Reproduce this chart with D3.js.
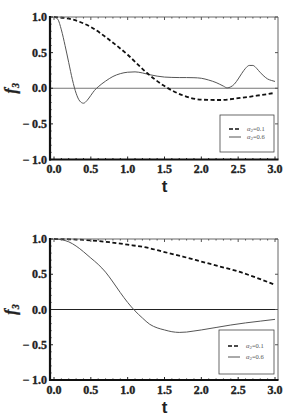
<!DOCTYPE html>
<html>
<head>
<meta charset="utf-8">
<script src="https://cdn.jsdelivr.net/npm/d3@7"></script>
<style>
  html, body { margin: 0; padding: 0; background: #fff; }
  svg { display: block; }
  .tick-label { font-family: "Liberation Serif", "DejaVu Serif", serif; font-weight: bold; font-size: 12px; fill: #222; stroke: #222; stroke-width: 0.35px; }
  .x-title { font-family: "Liberation Sans", Arial, sans-serif; font-weight: bold; font-size: 17px; fill: #222; }
  .y-title { font-family: "Liberation Serif", serif; font-weight: bold; font-style: italic; font-size: 16px; fill: #222; stroke: #222; stroke-width: 0.3px; }
  .legend-text { font-family: "Liberation Serif", serif; font-size: 6.5px; fill: #555; }
</style>
</head>
<body>
<div id="chart"></div>
<script>
// ---- data ----
const xTicks = [0, 0.5, 1, 1.5, 2, 2.5, 3];
const yTicks = [-1, -0.5, 0, 0.5, 1];
const legendLabels = ['0.1', '0.6'];

// upper panel
const tTopDash = [0, 0.25, 0.5, 0.75, 1.0, 1.25, 1.5, 1.75, 2.0, 2.25, 2.5, 2.75, 3.0];
const fTopDash = [1.0, 0.965, 0.86, 0.68, 0.47, 0.225, 0.03, -0.1, -0.16, -0.165, -0.14, -0.105, -0.065];
const tTopSolid = [0, 0.05, 0.1, 0.15, 0.2, 0.25, 0.3, 0.35, 0.4, 0.45, 0.5, 0.55, 0.6, 0.7, 0.8, 0.9, 1.0, 1.1, 1.2, 1.3, 1.4, 1.5, 1.6, 1.7, 1.8, 1.9, 2.0, 2.1, 2.2, 2.3, 2.35, 2.4, 2.45, 2.5, 2.55, 2.6, 2.65, 2.7, 2.75, 2.8, 2.85, 2.9, 2.95, 3.0];
const fTopSolid = [1.0, 0.97, 0.82, 0.6, 0.36, 0.12, -0.07, -0.18, -0.21, -0.17, -0.1, -0.03, 0.02, 0.1, 0.165, 0.205, 0.225, 0.23, 0.215, 0.19, 0.17, 0.157, 0.152, 0.15, 0.15, 0.148, 0.14, 0.115, 0.08, 0.03, 0.005, 0.02, 0.06, 0.13, 0.21, 0.28, 0.32, 0.32, 0.28, 0.22, 0.17, 0.13, 0.11, 0.095];

// lower panel
const tBotDash = [0, 0.25, 0.5, 0.75, 1.0, 1.25, 1.5, 1.75, 2.0, 2.25, 2.5, 2.75, 3.0];
const fBotDash = [1.0, 0.995, 0.98, 0.955, 0.92, 0.88, 0.815, 0.75, 0.68, 0.61, 0.54, 0.45, 0.35];
const tBotSolid = [0, 0.1, 0.2, 0.3, 0.4, 0.5, 0.6, 0.7, 0.8, 0.9, 1.0, 1.1, 1.2, 1.3, 1.4, 1.5, 1.6, 1.7, 1.8, 1.9, 2.0, 2.2, 2.4, 2.6, 2.8, 3.0];
const fBotSolid = [1.0, 0.99, 0.96, 0.9, 0.82, 0.73, 0.64, 0.53, 0.39, 0.24, 0.1, -0.02, -0.12, -0.21, -0.26, -0.29, -0.315, -0.325, -0.32, -0.305, -0.29, -0.255, -0.22, -0.19, -0.165, -0.14];

const zip = (ts, vs) => ts.map((t, i) => [t, vs[i]]);

const panels = [
  { top: 17, bottom: 159.5, dash: zip(tTopDash, fTopDash), solid: zip(tTopSolid, fTopSolid),
    zeroColor: '#777', legend: { x0: 220, x1: 274, y0: 115, y1: 152, rows: [129, 137] } },
  { top: 239, bottom: 380, dash: zip(tBotDash, fBotDash), solid: zip(tBotSolid, fBotSolid),
    zeroColor: '#222', legend: { x0: 219, x1: 274, y0: 330, y1: 374, rows: [346, 357] } },
];

const width = 301, height = 417;
const svg = d3.select('#chart').append('svg').attr('width', width).attr('height', height);

const x = d3.scaleLinear().domain([0, 3]).range([54, 275]);
const frameL = 50, frameR = 278;

function fmt(v) {
  const s = Math.abs(v).toFixed(1);
  return v < 0 ? '\u2212\u2009' + s : s;
}

for (const p of panels) {
  const y = d3.scaleLinear().domain([-1, 1]).range([p.bottom, p.top]);
  const g = svg.append('g');

  // zero line
  g.append('line')
    .attr('x1', frameL).attr('x2', frameR)
    .attr('y1', y(0)).attr('y2', y(0))
    .attr('stroke', p.zeroColor).attr('stroke-width', 1);

  const line = d3.line()
    .x((d) => x(d[0]))
    .y((d) => y(d[1]))
    .curve(d3.curveMonotoneX);

  g.append('path').attr('d', line(p.solid))
    .attr('fill', 'none').attr('stroke', '#555').attr('stroke-width', 1);
  g.append('path').attr('d', line(p.dash))
    .attr('fill', 'none').attr('stroke', '#111').attr('stroke-width', 1.8)
    .attr('stroke-dasharray', '4,2.5');

  // frame: thin gray top/right, heavy black left/bottom
  g.append('line').attr('x1', frameL).attr('x2', frameR).attr('y1', p.top).attr('y2', p.top)
    .attr('stroke', '#666').attr('stroke-width', 1);
  g.append('line').attr('x1', frameR).attr('x2', frameR).attr('y1', p.top).attr('y2', p.bottom)
    .attr('stroke', '#666').attr('stroke-width', 1);

  // minor + major ticks
  const minorX = d3.range(0, 3.001, 0.1);
  const minorY = d3.range(-1, 1.001, 0.1);
  const tk = g.append('g').attr('stroke', '#222');
  for (const v of minorX) {
    const major = Math.abs(v * 2 - Math.round(v * 2)) < 1e-6;
    const len = major ? 3 : 1.5;
    tk.append('line').attr('x1', x(v)).attr('x2', x(v)).attr('y1', p.bottom).attr('y2', p.bottom - len).attr('stroke-width', 1);
    tk.append('line').attr('x1', x(v)).attr('x2', x(v)).attr('y1', p.top).attr('y2', p.top + len).attr('stroke-width', 1).attr('stroke', '#555');
  }
  for (const v of minorY) {
    const major = Math.abs(v * 2 - Math.round(v * 2)) < 1e-6;
    const len = major ? 3 : 1.5;
    tk.append('line').attr('x1', frameL).attr('x2', frameL + len).attr('y1', y(v)).attr('y2', y(v)).attr('stroke-width', 1);
    if (major) {
      tk.append('line').attr('x1', frameR).attr('x2', frameR - len).attr('y1', y(v)).attr('y2', y(v)).attr('stroke-width', 1).attr('stroke', '#555');
    }
  }

  g.append('line').attr('x1', frameL).attr('x2', frameL).attr('y1', p.top - 1).attr('y2', p.bottom + 1)
    .attr('stroke', '#111').attr('stroke-width', 2.2);
  g.append('line').attr('x1', frameL - 1).attr('x2', frameR + 0.5).attr('y1', p.bottom).attr('y2', p.bottom)
    .attr('stroke', '#111').attr('stroke-width', 2.2);

  // tick labels
  g.selectAll('.xl').data(xTicks).join('text')
    .attr('class', 'tick-label')
    .attr('x', (d) => x(d)).attr('y', p.bottom + 13.5)
    .attr('text-anchor', 'middle')
    .text((d) => d.toFixed(1));
  g.selectAll('.yl').data(yTicks).join('text')
    .attr('class', 'tick-label')
    .attr('x', 47).attr('y', (d) => y(d) + 4)
    .attr('text-anchor', 'end')
    .text(fmt);

  // axis titles
  g.append('text').attr('class', 'x-title')
    .attr('x', x(1.5)).attr('y', p.bottom + 32.5)
    .attr('text-anchor', 'middle').text('t');
  const yt = g.append('text').attr('class', 'y-title')
    .attr('transform', `translate(16,${y(0)}) rotate(-90)`)
    .attr('text-anchor', 'middle');
  yt.append('tspan').text('f');
  yt.append('tspan').attr('font-size', '10px').attr('dy', 3).text('3');

  // legend
  const L = p.legend;
  g.append('rect').attr('x', L.x0).attr('y', L.y0)
    .attr('width', L.x1 - L.x0).attr('height', L.y1 - L.y0)
    .attr('fill', '#fff').attr('stroke', '#444').attr('stroke-width', 0.8);
  L.rows.forEach((ry, i) => {
    g.append('line').attr('x1', L.x0 + 9).attr('x2', L.x0 + 21).attr('y1', ry).attr('y2', ry)
      .attr('stroke', i === 0 ? '#111' : '#555')
      .attr('stroke-width', i === 0 ? 1.6 : 1)
      .attr('stroke-dasharray', i === 0 ? '4,2' : null);
    const t = g.append('text').attr('class', 'legend-text')
      .attr('x', L.x0 + 27).attr('y', ry + 2.2);
    t.append('tspan').attr('font-style', 'italic').text('\u03b1');
    t.append('tspan').attr('font-size', '5px').attr('dy', 1.2).text('2');
    t.append('tspan').attr('dy', -1.2).text('=' + legendLabels[i]);
  });
}
</script>
</body>
</html>
